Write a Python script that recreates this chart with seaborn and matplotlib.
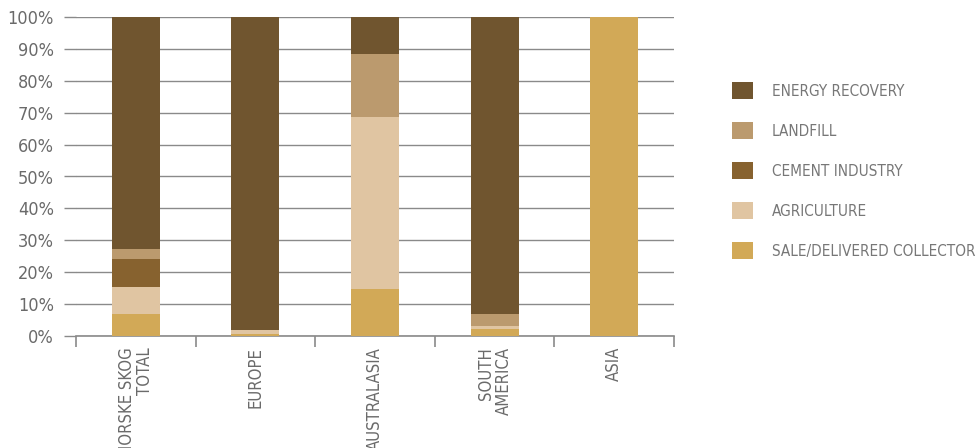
import matplotlib
matplotlib.use("Agg")
import matplotlib.pyplot as plt
from matplotlib.patches import Patch
from matplotlib import font_manager
import seaborn as sns
import numpy as np
import pandas as pd

categories = ["NORSKE SKOG\nTOTAL", "EUROPE", "AUSTRALASIA", "SOUTH\nAMERICA", "ASIA"]
sale = [7.0, 0.5, 14.7, 2.2, 100.0]
agriculture = [8.3, 1.5, 53.8, 1.0, 0.0]
cement = [8.8, 0.0, 0.0, 0.0, 0.0]
landfill = [3.2, 0.0, 19.9, 3.8, 0.0]
energy = [72.7, 98.0, 11.6, 93.0, 0.0]

series_names = ["SALE/DELIVERED COLLECTOR", "AGRICULTURE", "CEMENT INDUSTRY", "LANDFILL", "ENERGY RECOVERY"]
series_values = [sale, agriculture, cement, landfill, energy]
series_colors = ["#d2a957", "#e0c5a2", "#87622f", "#bb9a6e", "#70552f"]
y_ticks = list(range(0, 101, 10))
y_labels = [f"{v}%" for v in y_ticks]

sns.set_style("white")


def find_condensed():
    cands = []
    for f in font_manager.fontManager.ttflist:
        nm = (f.name + " " + f.fname).lower()
        st = str(f.stretch).lower()
        cond = ("condensed" in st or "narrow" in nm or "condensed" in nm
                or (isinstance(f.stretch, int) and f.stretch < 500))
        if not cond:
            continue
        if "mono" in nm or "serif" in nm.replace("sans", "") and "sans" not in nm:
            continue
        if f.style != "normal":
            continue
        w = f.weight if isinstance(f.weight, int) else 400
        score = abs(w - 400)
        if "semi" in nm:
            score += 50
        if "extra" in nm or "ultra" in nm:
            score += 100
        cands.append((score, f.fname))
    cands.sort()
    return cands[0][1] if cands else None


cond_file = find_condensed()
plt.rcParams["font.family"] = ["DejaVu Sans"]
if cond_file:
    fp_tick = font_manager.FontProperties(fname=cond_file, size=13)
    fp_x = font_manager.FontProperties(fname=cond_file, size=12)
    fp_leg = font_manager.FontProperties(fname=cond_file, size=11)
else:
    fp_tick = font_manager.FontProperties(family="DejaVu Sans", size=11)
    fp_x = font_manager.FontProperties(family="DejaVu Sans", size=10)
    fp_leg = font_manager.FontProperties(family="DejaVu Sans", size=9.5)

fig = plt.figure(figsize=(9.8, 4.48), dpi=100)
ax = fig.add_axes([76/980, 112/448, (674-76)/980, (336-17)/448])

grid_c = "#8a8a8a"
text_c = "#6a6a6a"

df = pd.DataFrame({"cat": categories})
cum = np.zeros(len(categories))
cums = []
for vals in series_values:
    cum = cum + np.array(vals)
    cums.append(cum.copy())

# draw from top (largest cumulative) to bottom so lower segments overlay
for name, c, color in reversed(list(zip(series_names, cums, series_colors))):
    d = df.copy()
    d["v"] = c
    sns.barplot(data=d, x="cat", y="v", color=color, width=0.4, ax=ax,
                saturation=1, linewidth=0, zorder=3, order=categories)

ax.set_xlim(-0.5, 4.5)
ax.set_ylim(0, 100)
ax.set_yticks(y_ticks)
ax.set_yticklabels(y_labels, color=text_c)
for t in ax.get_yticklabels():
    t.set_fontproperties(fp_tick)
ax.yaxis.grid(True, color=grid_c, linewidth=1.0, zorder=0)
ax.set_axisbelow(True)
ax.tick_params(axis="y", length=9, color=grid_c, width=1.0, pad=7, left=True)

ax.set_xticks(range(len(categories)))
ax.set_xticklabels(categories, rotation=90, color=text_c,
                   va="top", ha="center", multialignment="right")
for t in ax.get_xticklabels():
    t.set_fontproperties(fp_x)
    t.set_linespacing(1.0)
ax.tick_params(axis="x", length=0, pad=8)
# boundary ticks
ax.set_xticks(np.arange(-0.5, 4.6, 1.0), minor=True)
ax.tick_params(axis="x", which="minor", length=8, color=grid_c, width=1.2, bottom=True)

for s in ["top", "right", "left"]:
    ax.spines[s].set_visible(False)
ax.spines["bottom"].set_color(grid_c)
ax.spines["bottom"].set_linewidth(1.2)
ax.set_xlabel("")
ax.set_ylabel("")

handles = [Patch(facecolor=c, edgecolor="none") for c in reversed(series_colors)]
labels = list(reversed(series_names))
fig.legend(handles, labels, loc="upper left", bbox_to_anchor=(732/980, 1 - 82/448),
           frameon=False, prop=fp_leg, labelcolor="#777777",
           handlelength=1.35, handleheight=1.35, handletextpad=1.25,
           labelspacing=1.5, borderaxespad=0, borderpad=0)

fig.savefig("out.png", dpi=100)
